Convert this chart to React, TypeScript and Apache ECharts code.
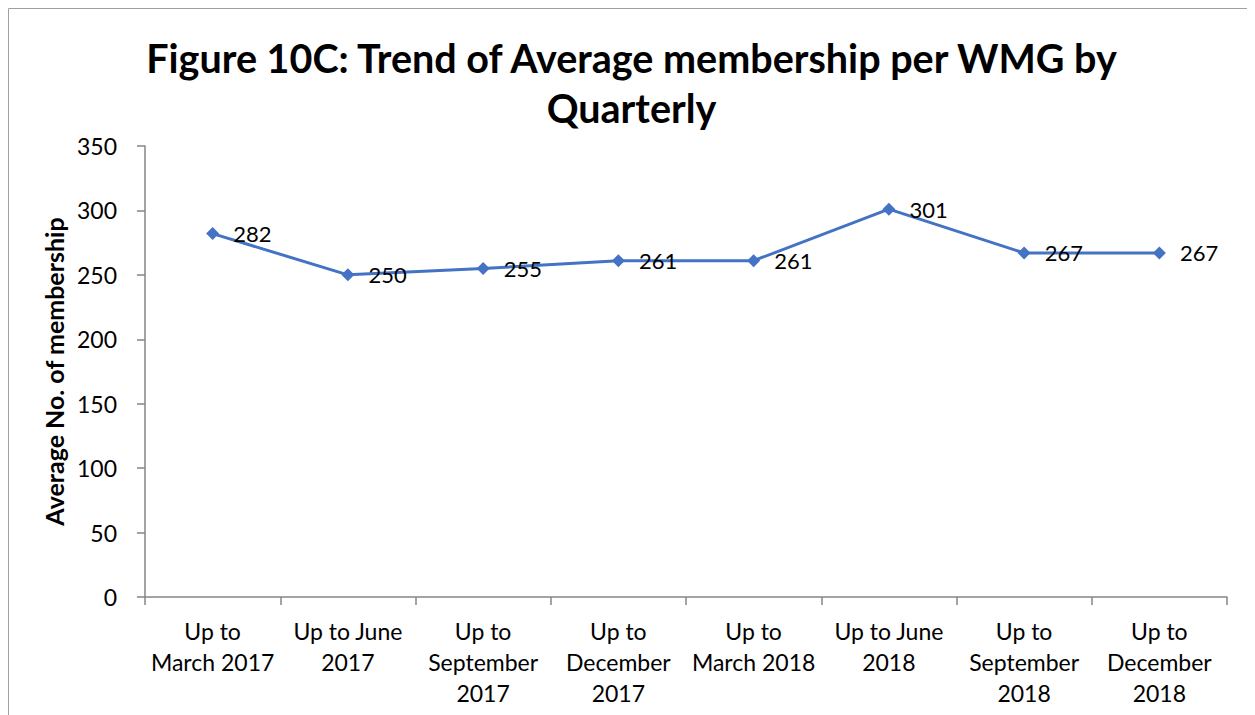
import React, { useEffect, useRef } from "react";
import * as echarts from "echarts";

const categories = [
  "Up to\nMarch 2017",
  "Up to June\n2017",
  "Up to\nSeptember\n2017",
  "Up to\nDecember\n2017",
  "Up to\nMarch 2018",
  "Up to June\n2018",
  "Up to\nSeptember\n2018",
  "Up to\nDecember\n2018",
];
const values = [282, 250, 255, 261, 261, 301, 267, 267];
const titleText = "Figure 10C: Trend of Average membership per WMG by\nQuarterly";
const yAxisName = "Average No. of membership";

const FONT = "Lato, 'Open Sans', sans-serif";

export default function App() {
  const ref = useRef<HTMLDivElement>(null);
  useEffect(() => {
    if (!ref.current) return;
    const chart = echarts.init(ref.current, null, { renderer: "svg" });
    chart.setOption({
      animation: false,
      backgroundColor: "#ffffff",
      graphic: [
        {
          type: "rect",
          shape: { x: 0.5, y: 0.5, width: 3000, height: 3000 },
          style: { fill: "none", stroke: "#a0a0a0", lineWidth: 1 },
          silent: true,
        },
      ],
      title: {
        text: titleText,
        left: "center",
        top: 19,
        textStyle: {
          fontFamily: FONT,
          fontSize: 39.5,
          fontWeight: "bold",
          color: "#000",
          lineHeight: 50,
        },
      },
      grid: { left: 137, right: 28, top: 138, bottom: 118, containLabel: false },
      xAxis: {
        type: "category",
        data: categories,
        boundaryGap: true,
        axisLine: { lineStyle: { color: "#868686", width: 1.5 } },
        axisTick: { show: true, length: 8, alignWithLabel: false, lineStyle: { color: "#868686", width: 1.5 } },
        axisLabel: {
          interval: 0,
          margin: 18,
          fontFamily: FONT,
          fontSize: 23,
          color: "#000",
          lineHeight: 31,
          align: "center",
        },
      },
      yAxis: {
        type: "value",
        min: 0,
        max: 350,
        interval: 50,
        name: yAxisName,
        nameLocation: "middle",
        nameGap: 75,
        nameTextStyle: { fontFamily: FONT, fontSize: 25, fontWeight: "bold", color: "#000" },
        axisLine: { show: true, lineStyle: { color: "#868686", width: 1.5 } },
        axisTick: { show: true, length: 8, lineStyle: { color: "#868686", width: 1.5 } },
        splitLine: { show: false },
        axisLabel: { margin: 28, fontFamily: FONT, fontSize: 23, color: "#000" },
      },
      series: [
        {
          type: "line",
          data: values,
          symbol: "diamond",
          symbolSize: 13,
          lineStyle: { color: "#4472C4", width: 3 },
          itemStyle: { color: "#4472C4" },
          label: {
            show: true,
            position: "right",
            distance: 14,
            fontFamily: FONT,
            fontSize: 22,
            color: "#000",
          },
        },
      ],
    });
    return () => chart.dispose();
  }, []);
  return <div ref={ref} style={{ width: 1247, height: 707 }} />;
}
